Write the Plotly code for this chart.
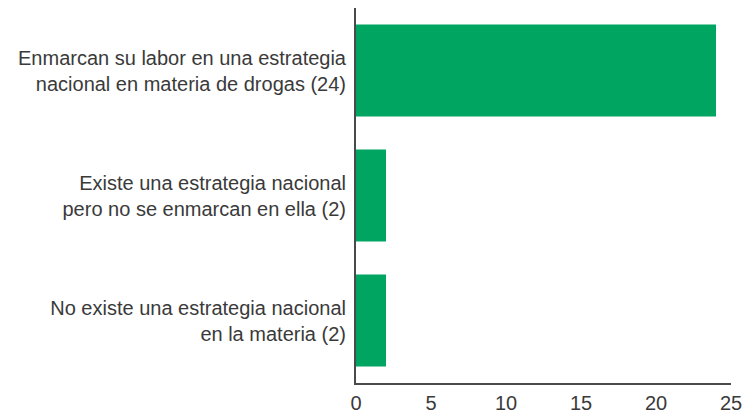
import plotly.graph_objects as go

categories = [
    "Enmarcan su labor en una estrategia<br>nacional en materia de drogas (24)",
    "Existe una estrategia nacional<br>pero no se enmarcan en ella (2)",
    "No existe una estrategia nacional<br>en la materia (2)",
]
values = [24, 2, 2]
x_ticks = [0, 5, 10, 15, 20, 25]

fig = go.Figure(
    go.Bar(
        x=values,
        y=categories,
        orientation="h",
        marker=dict(color="#00A562", line=dict(width=0)),
        width=0.736,
    )
)

font_family = "Liberation Sans, Arial, Helvetica, sans-serif"

fig.update_layout(
    width=744,
    height=415,
    margin=dict(l=356, r=13, t=8, b=32, autoexpand=False),
    paper_bgcolor="white",
    plot_bgcolor="white",
    showlegend=False,
    font=dict(family=font_family, size=20, color="#3a3a3a"),
)

fig.update_xaxes(
    range=[0, 25],
    tickvals=x_ticks,
    showgrid=False,
    zeroline=False,
    showline=True,
    linecolor="#4a4a4a",
    linewidth=2,
    ticks="",
    ticklabelstandoff=1,
    automargin=False,
    tickfont=dict(size=20, color="#3a3a3a"),
)

fig.update_yaxes(
    categoryorder="array",
    categoryarray=categories[::-1],
    range=[-0.5, 2.5],
    showgrid=False,
    zeroline=False,
    showline=True,
    linecolor="#4a4a4a",
    linewidth=2,
    ticks="",
    ticklabelstandoff=4,
    automargin=False,
    tickfont=dict(size=20, color="#3a3a3a"),
)

fig.write_html("out.html")
